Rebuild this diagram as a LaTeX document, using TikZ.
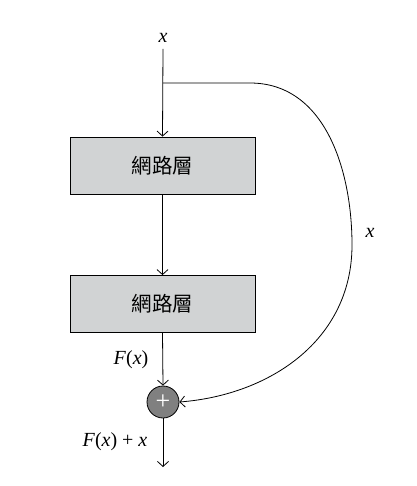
\documentclass[tikz,border=0pt]{standalone}
\usepackage{fontspec}
\setmainfont{Liberation Serif}
\newfontfamily\cjk{Noto Sans CJK TC}
\usetikzlibrary{arrows.meta}
\definecolor{boxgray}{RGB}{209,211,212}
\definecolor{circgray}{RGB}{128,128,128}
\tikzset{
  layerbox/.style={draw=black, line width=0.8pt, fill=boxgray, minimum width=185pt, minimum height=57pt, inner sep=0pt, font=\cjk\fontsize{20.5}{20.5}\selectfont},
  sumnode/.style={circle, draw=black, line width=0.8pt, fill=circgray, minimum size=32pt, inner sep=0pt, text=white, font=\fontsize{26}{26}\selectfont},
  conn/.style={line width=0.8pt, -{Straight Barb[length=5pt,width=11pt]}},
  lbl/.style={inner sep=0pt, font=\fontsize{20}{20}\selectfont\itshape}
}
\begin{document}
\begin{tikzpicture}[x=1pt,y=-1pt]
\useasboundingbox (0,0) rectangle (416,486);
\node[lbl] (xin) at (163,38) {x};
\coordinate (top) at (163,49);
\coordinate (branch) at (163,83);
\node[layerbox] (L1) at (162.5,165.5) {網路層};
\node[layerbox] (L2) at (162.5,304) {網路層};
\node[sumnode] (sum) at (163,402) {+};
\coordinate (out) at (163,467);
\node[lbl] (fx) at (131,360) {F\textup{(}x\textup{)}};
\node[lbl] (fxx) at (115,442) {F\textup{(}x\textup{) + }x};
\node[lbl] (xr) at (370,233) {x};
\draw[conn] (top) -- (L1.north);
\draw[conn] (L1.south) -- (L2.north);
\draw[conn] (L2.south) -- (sum.north);
\draw[conn] (sum.south) -- (out);
\draw[conn] (branch) -- (250,83) .. controls (325,83) and (352,170) .. (352,245) .. controls (352,340) and (270,395) .. (sum.east);
\end{tikzpicture}
\end{document}
